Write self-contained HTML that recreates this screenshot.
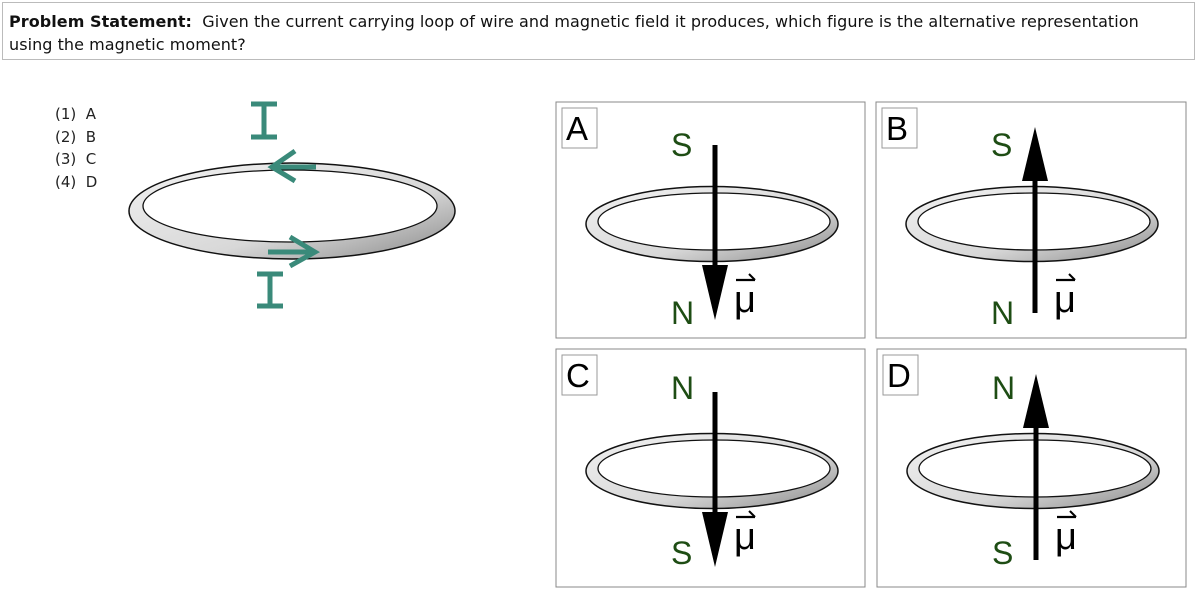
<!DOCTYPE html>
<html><head><meta charset="utf-8"><style>
body{margin:0;width:1200px;height:600px;background:#fff;font-family:"Liberation Sans",sans-serif;position:relative;overflow:hidden}
.hdr{position:absolute;left:2px;top:2px;width:1193px;height:58px;border:1px solid #bbb;box-sizing:border-box;padding:7px 6px;font-family:"DejaVu Sans",sans-serif;font-size:16px;letter-spacing:0.05px;line-height:23px;color:#111;white-space:nowrap}
.opts{position:absolute;left:55px;top:103px;font-family:"DejaVu Sans",sans-serif;font-size:15px;line-height:22.5px;color:#222;white-space:pre}
svg{position:absolute;left:0;top:0}
</style></head><body>
<div class="hdr"><b>Problem Statement:</b>&nbsp; Given the current carrying loop of wire and magnetic field it produces, which figure is the alternative representation<br>using the magnetic moment?</div>
<div class="opts">(1)  A
(2)  B
(3)  C
(4)  D</div>
<svg width="1200" height="600" viewBox="0 0 1200 600">
<defs>
<linearGradient id="g" x1="0" y1="0" x2="1" y2="1">
<stop offset="0" stop-color="#f2f2f2"/><stop offset="0.6" stop-color="#d8d8d8"/><stop offset="1" stop-color="#888"/>
</linearGradient>
<g id="ring">
<ellipse cx="156" cy="122" rx="126" ry="37.5" fill="url(#g)" stroke="#111" stroke-width="1.5"/>
<ellipse cx="158" cy="119.5" rx="116" ry="28.5" fill="#fff" stroke="#111" stroke-width="1.3"/>
</g>
<g id="mu">
<text x="0" y="0" font-size="38">μ</text>
<line x1="2" y1="-32" x2="21" y2="-32" stroke="#000" stroke-width="2.2"/>
<line x1="15" y1="-38" x2="21" y2="-32" stroke="#000" stroke-width="2"/>
</g>
<g id="down">
<use href="#ring"/>
<line x1="159" y1="43" x2="159" y2="168" stroke="#000" stroke-width="5"/>
<polygon points="146,163 172,163 159,218" fill="#000"/>
</g>
<g id="up">
<use href="#ring"/>
<line x1="159" y1="74" x2="159" y2="211" stroke="#000" stroke-width="5"/>
<polygon points="146,79 172,79 159,25" fill="#000"/>
</g>
</defs>
<!-- main loop -->
<ellipse cx="292" cy="211" rx="163" ry="48" fill="url(#g)" stroke="#111" stroke-width="1.5"/>
<ellipse cx="290" cy="206" rx="147" ry="36" fill="#fff" stroke="#111" stroke-width="1.3"/>
<g stroke="#3a8a7a" stroke-width="5" fill="none">
<line x1="316" y1="167" x2="272" y2="167"/><polyline points="295,151 272,167 295,181"/>
<line x1="268" y1="252" x2="315" y2="252"/><polyline points="290,237 315,252 290,266"/>
<line x1="264" y1="102" x2="264" y2="136"/><line x1="251" y1="104" x2="277" y2="104"/><line x1="251" y1="137" x2="277" y2="137"/>
<line x1="270" y1="273" x2="270" y2="307"/><line x1="257" y1="274" x2="283" y2="274"/><line x1="257" y1="306" x2="283" y2="306"/>
</g>
<!-- panels -->
<g font-family="Liberation Sans,sans-serif">
<g transform="translate(556,102)">
<rect x="0" y="0" width="309" height="236" fill="none" stroke="#888"/>
<rect x="6" y="6" width="35" height="40" fill="#fff" stroke="#999"/><text x="10" y="38" font-size="33">A</text>
<use href="#down"/>
<text x="115" y="54" font-size="32" fill="#1e4d14">S</text>
<text x="115" y="222" font-size="32" fill="#1e4d14">N</text>
<use href="#mu" x="178" y="210"/>
</g>
<g transform="translate(876,102)">
<rect x="0" y="0" width="310" height="236" fill="none" stroke="#888"/>
<rect x="6" y="6" width="35" height="40" fill="#fff" stroke="#999"/><text x="10" y="38" font-size="33">B</text>
<use href="#up"/>
<text x="115" y="54" font-size="32" fill="#1e4d14">S</text>
<text x="115" y="222" font-size="32" fill="#1e4d14">N</text>
<use href="#mu" x="178" y="210"/>
</g>
<g transform="translate(556,349)">
<rect x="0" y="0" width="309" height="238" fill="none" stroke="#888"/>
<rect x="6" y="6" width="35" height="40" fill="#fff" stroke="#999"/><text x="10" y="38" font-size="33">C</text>
<use href="#down"/>
<text x="115" y="50" font-size="32" fill="#1e4d14">N</text>
<text x="115" y="215" font-size="32" fill="#1e4d14">S</text>
<use href="#mu" x="178" y="200"/>
</g>
<g transform="translate(877,349)">
<rect x="0" y="0" width="309" height="238" fill="none" stroke="#888"/>
<rect x="6" y="6" width="35" height="40" fill="#fff" stroke="#999"/><text x="10" y="38" font-size="33">D</text>
<use href="#up"/>
<text x="115" y="50" font-size="32" fill="#1e4d14">N</text>
<text x="115" y="215" font-size="32" fill="#1e4d14">S</text>
<use href="#mu" x="178" y="200"/>
</g>
</g>
</svg>
</body></html>
